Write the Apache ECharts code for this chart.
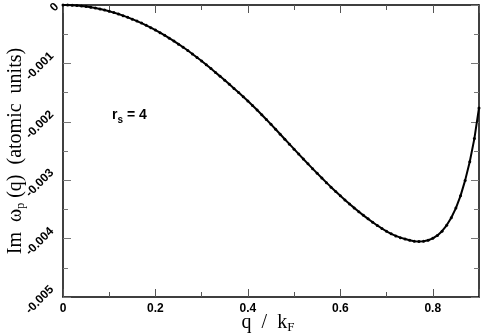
<!DOCTYPE html>
<html>
<head>
<meta charset="utf-8">
<script src="https://cdn.jsdelivr.net/npm/echarts@6/dist/echarts.min.js"></script>
<style>
  html, body { margin: 0; padding: 0; background: #fff; }
  #main { width: 483px; height: 336px; }
</style>
</head>
<body>
<div id="main"></div>
<script>
// q / kF, step 0.01
var qValues = [];
for (var i = 0; i <= 90; i++) qValues.push(+(i / 100).toFixed(2));

// Im omega_p(q) in units of 1e-5 a.u.
var imOmega5 = [
  0, -0.1, -0.4, -1.0, -1.7, -2.7, -3.9, -5.3, -6.9, -8.7,
  -10.8, -13.0, -15.5, -18.2, -21.1, -24.2, -27.5, -31.0, -34.8, -38.8,
  -43.0, -47.4, -52.0, -56.8, -61.8, -67.0, -72.4, -78.0, -83.8, -89.8,
  -96.0, -102.4, -108.9, -115.5, -122.2, -129.0, -135.9, -142.9, -150.0, -157.2,
  -164.5, -172.1, -179.9, -187.9, -196.1, -204.4, -212.8, -221.3, -229.8, -238.3,
  -246.8, -255.3, -263.7, -272.0, -280.2, -288.3, -296.3, -304.2, -311.9, -319.4,
  -326.7, -333.8, -340.7, -347.4, -353.9, -360.2, -366.2, -372.0, -377.5, -382.7,
  -387.6, -391.8, -395.4, -398.4, -400.8, -402.9, -404.4, -405.0, -404.6, -402.8,
  -399.6, -394.6, -387.3, -377.3, -364.3, -347.8, -326.8, -300.3, -268.3, -228.8,
  -176.3
];

var xTicks = [0, 0.2, 0.4, 0.6, 0.8];
var yTicks = [0, -0.001, -0.002, -0.003, -0.004, -0.005];

var chartDom = document.getElementById('main');
var myChart = echarts.init(chartDom);

function xAxisBase(pos, labels) {
  return {
    type: 'value',
    position: pos,
    min: 0,
    max: 0.9,
    interval: 0.2,
    axisLine: { show: true, onZero: false, lineStyle: { color: '#000', width: 1.5 } },
    axisTick: { show: true, inside: true, length: 8, lineStyle: { color: '#555', width: 1 } },
    minorTick: { show: true, splitNumber: 2, length: 5, lineStyle: { color: '#555', width: 1 } },
    splitLine: { show: false },
    axisLabel: {
      show: labels,
      margin: 6,
      showMaxLabel: false,
      fontFamily: 'Liberation Sans', fontWeight: 'bold', fontSize: 12, color: '#000',
      formatter: function (v) { return xTicks.indexOf(+v.toFixed(2)) >= 0 ? String(+v.toFixed(2)) : ''; }
    }
  };
}

function yAxisBase(pos, labels) {
  return {
    type: 'value',
    position: pos,
    min: -0.005,
    max: 0,
    interval: 0.001,
    axisLine: { show: true, onZero: false, lineStyle: { color: '#000', width: 1.5 } },
    axisTick: { show: true, inside: true, length: 8, lineStyle: { color: '#777', width: 1 } },
    minorTick: { show: true, splitNumber: 2, length: 5, lineStyle: { color: '#777', width: 1 } },
    splitLine: { show: false },
    axisLabel: {
      show: labels,
      rotate: 45,
      margin: 2,
      fontFamily: 'Liberation Sans', fontWeight: 'bold', fontSize: 12, color: '#000',
      formatter: function (v) {
        var r = +v.toFixed(3);
        if (yTicks.indexOf(r) < 0) return '';
        return r === 0 ? '{z|0}' : '{n|' + r.toFixed(3) + '}';
      },
      rich: {
        z: { fontFamily: 'Liberation Sans', fontWeight: 'bold', fontSize: 12, color: '#000', padding: [0, 3, 6, 0] },
        n: { fontFamily: 'Liberation Sans', fontWeight: 'bold', fontSize: 12, color: '#000', padding: [0, 0, 26, 0] }
      }
    }
  };
}

var points = qValues.map(function (q, i) { return [q, imOmega5[i] * 1e-5]; });

var serifRich = function (size, subSize, drop) {
  return {
    a: { fontFamily: 'Liberation Serif', fontSize: size, fill: '#000' },
    s: { fontFamily: 'Liberation Serif', fontSize: subSize, fill: '#000', padding: [drop, 0, 0, 0] }
  };
};

var option = {
  animation: false,
  backgroundColor: '#fff',
  grid: { left: 63, right: 4, top: 5, bottom: 39, outerBoundsMode: 'none', containLabel: false },
  xAxis: [xAxisBase('bottom', true), xAxisBase('top', false)],
  yAxis: [yAxisBase('left', true), yAxisBase('right', false)],
  graphic: [{
    type: 'text',
    left: 112,
    top: 108,
    style: {
      text: '{a|r}{s|s}{a| = 4}',
      rich: {
        a: { fontFamily: 'Liberation Sans', fontWeight: 'bold', fontSize: 14, fill: '#000' },
        s: { fontFamily: 'Liberation Sans', fontWeight: 'bold', fontSize: 10, fill: '#000', padding: [10, 0, 0, 0] }
      }
    }
  }, {
    // x axis title
    type: 'text',
    x: 268,
    y: 323,
    style: {
      text: '{a|q  /  k}{s|F}',
      align: 'center',
      verticalAlign: 'middle',
      rich: serifRich(20, 13, 9)
    }
  }, {
    // y axis title
    type: 'text',
    x: 16,
    y: 151,
    rotation: Math.PI / 2,
    style: {
      text: '{a|Im  ω}{s|p}{a| (q)  (atomic  units)}',
      align: 'center',
      verticalAlign: 'middle',
      rich: serifRich(20, 12, 9)
    }
  }],
  series: [{
    type: 'line',
    data: points,
    xAxisIndex: 0,
    yAxisIndex: 0,
    symbol: 'circle',
    symbolSize: 3,
    lineStyle: { color: '#000', width: 2 },
    itemStyle: { color: '#000' },
    clip: false
  }]
};

myChart.setOption(option);
</script>
</body>
</html>
